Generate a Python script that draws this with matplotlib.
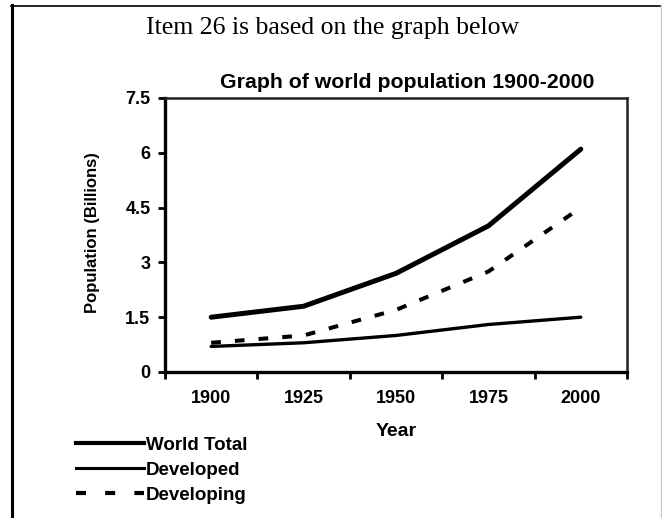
import matplotlib
matplotlib.use("Agg")
import matplotlib.pyplot as plt
from matplotlib.lines import Line2D

years = ["1900", "1925", "1950", "1975", "2000"]
world_total = [1.5, 1.8, 2.7, 4.0, 6.1]
developed = [0.7, 0.8, 1.0, 1.3, 1.5]
developing = [0.8, 1.0, 1.7, 2.75, 4.5]
y_ticks = [0, 1.5, 3, 4.5, 6, 7.5]
y_tick_labels = ["0", "1.5", "3", "4.5", "6", "7.5"]

W, H = 662, 518
fig = plt.figure(figsize=(W / 100, H / 100), dpi=100)
fig.patch.set_facecolor("white")

ax = fig.add_axes([165 / W, 1 - 372 / H, (627 - 165) / W, (372 - 98) / H])

x = list(range(len(years)))
ax.plot(x, world_total, color="black", lw=3.6, solid_capstyle="round", solid_joinstyle="round", label="World Total")
ax.plot(x, developed, color="black", lw=2.4, solid_capstyle="round", label="Developed")
ax.plot(x, developing, color="black", lw=2.9, linestyle=(0, (2.4, 3.5)), dash_capstyle="butt", label="Developing")

ax.set_xlim(-0.5, len(years) - 0.5)
ax.set_ylim(0, 7.5)
ax.set_xticks(x)
ax.set_xticklabels(years)
ax.set_xticks([i - 0.5 for i in range(len(years) + 1)], minor=True)
ax.tick_params(axis="x", which="major", length=0, pad=13)
ax.tick_params(axis="x", which="minor", length=5, width=2, direction="out")
ax.set_yticks(y_ticks)
ax.set_yticklabels(y_tick_labels)
ax.tick_params(axis="y", length=5, width=2, direction="out", pad=5.5)
for lab in ax.get_xticklabels() + ax.get_yticklabels():
    lab.set_fontfamily("Liberation Sans")
    lab.set_fontweight("bold")
    lab.set_fontsize(13)

for side in ["left", "bottom"]:
    ax.spines[side].set_linewidth(2.4)
for side in ["top", "right"]:
    ax.spines[side].set_linewidth(1.8)
    ax.spines[side].set_color("#222222")

ax.set_title("Graph of world population 1900-2000", fontfamily="Liberation Sans",
             fontweight="bold", fontsize=15.3, pad=7, x=0.524)

fig.text(92 / W, 1 - 233 / H, "Population (Billions)", rotation=90, ha="center", va="center",
         fontfamily="Liberation Sans", fontweight="bold", fontsize=12)
fig.text(396 / W, 1 - 432 / H, "Year", ha="center", va="center",
         fontfamily="Liberation Sans", fontweight="bold", fontsize=14)

fig.text(333 / W, 1 - 28 / H, "Item 26 is based on the graph below", ha="center", va="center",
         fontfamily="Liberation Serif", fontsize=18.5)

handles = [
    Line2D([], [], color="black", lw=3.0),
    Line2D([], [], color="black", lw=2.2),
    Line2D([], [], color="black", lw=3.0, linestyle=(0, (2.4, 4.6))),
]
leg = fig.legend(handles, ["World Total", "Developed", "Developing"], loc="upper left",
                 bbox_to_anchor=(59.5 / W, 1 - 420 / H), frameon=False, handlelength=3.6,
                 handletextpad=0.1, labelspacing=0.41,
                 prop={"family": "Liberation Sans", "weight": "bold", "size": 13.5})

# page border
fig.add_artist(Line2D([12 / W, 12 / W], [0, 1 - 5 / H], color="black", lw=2.2, transform=fig.transFigure))
fig.add_artist(Line2D([11 / W, 660 / W], [1 - 5.5 / H, 1 - 5.5 / H], color="black", lw=1.2, transform=fig.transFigure))
fig.add_artist(Line2D([661 / W, 661 / W], [0, 1 - 5 / H], color="#c8c8c8", lw=1.0, transform=fig.transFigure))

fig.savefig("out.png", dpi=100, facecolor="white")
